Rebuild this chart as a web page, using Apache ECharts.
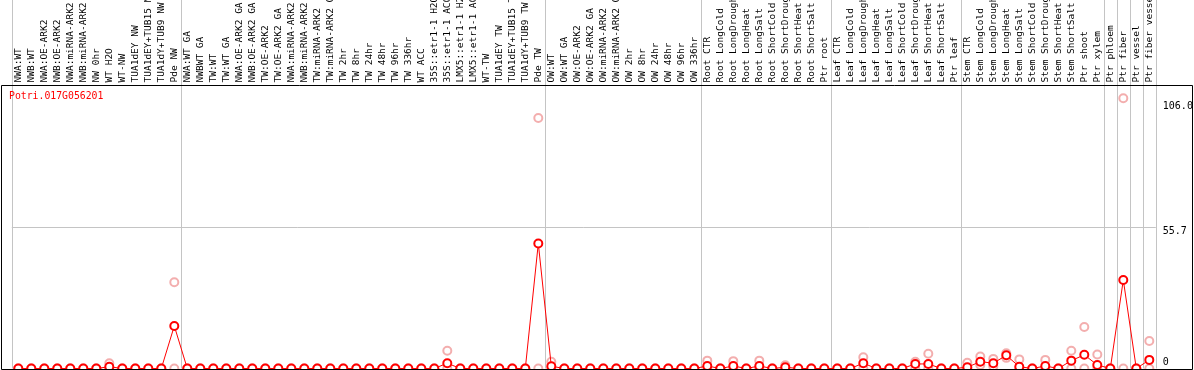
<!DOCTYPE html>
<html>
<head>
<meta charset="utf-8">
<script src="https://cdn.jsdelivr.net/npm/echarts@6/dist/echarts.min.js"></script>
<style>
  html, body {margin: 0; padding: 0; background: #fff;}
  #chart {width: 1194px; height: 370px;}
</style>
</head>
<body>
<div id="chart"></div>
<script>
const geneId = 'Potri.017G056201';

const samples = [
  'NWA:WT', 'NWB:WT', 'NWA:OE-ARK2', 'NWB:OE-ARK2', 'NWA:miRNA-ARK2', 'NWB:miRNA-ARK2',
  'NW 0hr', 'WT H2O', 'WT-NW', 'TUA1dEY NW', 'TUA1dEY+TUB15 NW', 'TUA1dY+TUB9 NW', 'Pde NW',
  'NWA:WT GA', 'NWBWT GA', 'TW:WT', 'TW:WT GA', 'NWA:OE-ARK2 GA', 'NWB:OE-ARK2 GA',
  'TW:OE-ARK2', 'TW:OE-ARK2 GA', 'NWA:miRNA-ARK2 GA', 'NWB:miRNA-ARK2 GA', 'TW:miRNA-ARK2',
  'TW:miRNA-ARK2 GA', 'TW 2hr', 'TW 8hr', 'TW 24hr', 'TW 48hr', 'TW 96hr', 'TW 336hr',
  'WT ACC', '35S::etr1-1 H2O', '35S::etr1-1 ACC', 'LMX5::etr1-1 H2O', 'LMX5::etr1-1 ACC',
  'WT-TW', 'TUA1dEY TW', 'TUA1dEY+TUB15 TW', 'TUA1dY+TUB9 TW', 'Pde TW',
  'OW:WT', 'OW:WT GA', 'OW:OE-ARK2', 'OW:OE-ARK2 GA', 'OW:miRNA-ARK2', 'OW:miRNA-ARK2 GA',
  'OW 2hr', 'OW 8hr', 'OW 24hr', 'OW 48hr', 'OW 96hr', 'OW 336hr',
  'Root CTR', 'Root LongCold', 'Root LongDrought', 'Root LongHeat', 'Root LongSalt',
  'Root ShortCold', 'Root ShortDrought', 'Root ShortHeat', 'Root ShortSalt', 'Ptr root',
  'Leaf CTR', 'Leaf LongCold', 'Leaf LongDrought', 'Leaf LongHeat', 'Leaf LongSalt',
  'Leaf ShortCold', 'Leaf ShortDrought', 'Leaf ShortHeat', 'Leaf ShortSalt', 'Ptr leaf',
  'Stem CTR', 'Stem LongCold', 'Stem LongDrought', 'Stem LongHeat', 'Stem LongSalt',
  'Stem ShortCold', 'Stem ShortDrought', 'Stem ShortHeat', 'Stem ShortSalt', 'Ptr shoot',
  'Ptr xylem', 'Ptr phloem', 'Ptr fiber', 'Ptr vessel', 'Ptr fiber vessel'
];

// mean expression (red line)
const meanValues = [
  0, 0, 0, 0, 0, 0, 0, 0.7, 0, 0, 0,
  0, 16.8, 0, 0, 0, 0, 0, 0, 0, 0, 0,
  0, 0, 0, 0, 0, 0, 0, 0, 0, 0, 0,
  2.1, 0, 0, 0, 0, 0, 0, 49.4, 0.9, 0, 0,
  0, 0, 0, 0, 0, 0, 0, 0, 0, 1.0, 0,
  1.0, 0, 1.0, 0, 0.5, 0, 0, 0, 0, 0, 2.1,
  0, 0, 0, 1.8, 1.8, 0, 0, 0.5, 2.7, 2.1, 5.2,
  0.7, 0, 1.0, 0, 3.1, 5.4, 1.4, 0, 35.0, 0, 3.4
];

// replicates (pink circles)
const repHigh = [
  0, 0, 0, 0, 0, 0, 0, 2.1, 0, 0, 0,
  0, 34.1, 0, 0, 0, 0, 0, 0, 0, 0, 0,
  0, 0, 0, 0, 0, 0, 0, 0, 0, 0, 0,
  7.0, 0, 0, 0, 0, 0, 0, 99.0, 2.7, 0, 0,
  0, 0, 0, 0, 0, 0, 0, 0, 0, 3.1, 0,
  2.9, 0, 3.1, 0, 1.3, 0, 0, 0, 0, 0, 4.4,
  0, 0, 0, 2.7, 5.8, 0, 0, 2.3, 4.7, 3.8, 6.0,
  3.6, 0, 3.4, 0, 7.0, 16.4, 5.5, 0, 106.8, 0, 10.9
];
const repLow = [
  0, 0, 0, 0, 0, 0, 0, 0, 0, 0, 0,
  0, 0, 0, 0, 0, 0, 0, 0, 0, 0, 0,
  0, 0, 0, 0, 0, 0, 0, 0, 0, 0, 0,
  0, 0, 0, 0, 0, 0, 0, 0, 0, 0, 0,
  0, 0, 0, 0, 0, 0, 0, 0, 0, 0, 0,
  0, 0, 0, 0, 0, 0, 0, 0, 0, 0, 0,
  0, 0, 0, 0, 0, 0, 0, 0, 1.4, 0.8, 4.2,
  0, 0, 0, 0, 0, 0, 0, 0, 0, 0, 0
];

// first sample of each group (vertical separators)
const groupStarts = [0, 13, 41, 53, 63, 73, 84, 85, 86, 87];
const yTickValues = [0, 55.7, 106.0];
const yTickLabels = ['0', '55.7', '106.0'];
const yGridValues = [55.7];

const mono = 'DejaVu Sans Mono';
const chart = echarts.init(document.getElementById('chart'));

const repStyle = {
  type: 'scatter',
  symbol: 'emptyCircle',
  symbolSize: 8,
  itemStyle: {color: '#f09a9a', borderColor: '#f09a9a', borderWidth: 1.3},
  z: 2
};

const option = {
  animation: false,
  backgroundColor: '#fff',
  title: {
    text: geneId,
    left: 9,
    top: 91,
    padding: 0,
    textStyle: {color: '#ff0000', fontSize: 9.8, fontWeight: 'normal', fontFamily: mono}
  },
  grid: {left: 11.8, right: 38.2, top: 0, bottom: 1.5, outerBoundsMode: 'none', containLabel: false},
  xAxis: {
    type: 'category',
    position: 'top',
    offset: -85.5,
    data: samples,
    axisLine: {show: false},
    axisTick: {show: false},
    axisLabel: {
      interval: 0,
      rotate: 90,
      margin: 3,
      color: '#000',
      fontSize: 9.5,
      fontFamily: mono
    },
    splitLine: {
      show: true,
      interval: (i) => groupStarts.indexOf(i) >= 0,
      lineStyle: {color: '#c4c4c4', width: 1}
    }
  },
  yAxis: {
    type: 'value',
    position: 'right',
    min: 0,
    max: 145.6,
    axisLine: {show: false},
    axisTick: {show: false},
    splitLine: {show: false},
    axisLabel: {
      customValues: yTickValues,
      margin: 7,
      align: 'left',
      color: '#000',
      fontSize: 10,
      fontFamily: mono,
      formatter: (v) => {
        const i = yTickValues.indexOf(v);
        const txt = i >= 0 ? yTickLabels[i] : '';
        if (i === 0) return '{up|' + txt + '}';
        if (i === 2) return '{dn|' + txt + '}';
        return '{mid|' + txt + '}';
      },
      rich: {
        up: {fontSize: 10, fontFamily: mono, color: '#000', padding: [0, 0, 12, 0]},
        mid: {fontSize: 10, fontFamily: mono, color: '#000', padding: [8, 0, 0, 0]},
        dn: {fontSize: 10, fontFamily: mono, color: '#000', padding: [13, 0, 0, 0]}
      }
    }
  },
  graphic: [{
    type: 'rect',
    silent: true,
    z: 10,
    shape: {x: 1.5, y: 85.5, width: 1191, height: 284},
    style: {fill: 'none', stroke: '#000', lineWidth: 1}
  }],
  series: [
    Object.assign({name: 'rep1', data: repHigh}, repStyle),
    Object.assign({name: 'rep2', data: repLow}, repStyle),
    {
      name: geneId,
      type: 'line',
      data: meanValues,
      symbol: 'emptyCircle',
      symbolSize: 8,
      showAllSymbol: true,
      lineStyle: {color: '#ff0000', width: 1},
      itemStyle: {color: '#ff0000', borderColor: '#ff0000', borderWidth: 1.5},
      z: 3,
      markLine: {
        silent: true,
        symbol: 'none',
        label: {show: false},
        lineStyle: {color: '#c4c4c4', type: 'solid', width: 1},
        data: yGridValues.map(v => ({yAxis: v}))
      }
    }
  ]
};

chart.setOption(option);
</script>
</body>
</html>
